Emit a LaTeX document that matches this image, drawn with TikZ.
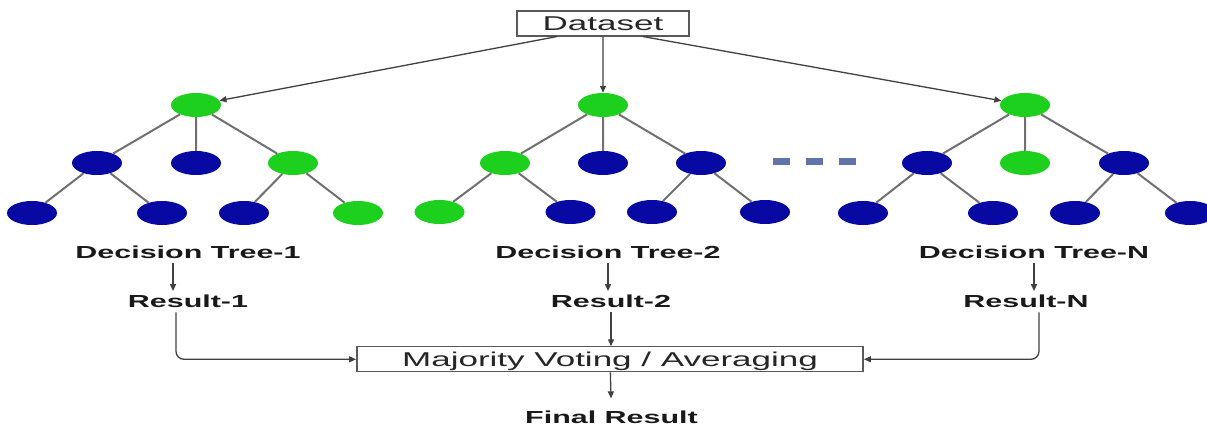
\documentclass[tikz,border=0pt]{standalone}
\usepackage{fontspec}
\setmainfont{Liberation Sans}
\usetikzlibrary{shapes.geometric,arrows.meta}
\definecolor{leafgreen}{RGB}{30,208,30}
\definecolor{leafblue}{RGB}{8,8,162}
\definecolor{dotblue}{RGB}{98,114,170}
\definecolor{branchgray}{RGB}{112,112,112}
\tikzset{
	gnode/.style={ellipse,fill=leafgreen,minimum width=50pt,minimum height=24pt,inner sep=0pt},
	bnode/.style={gnode,fill=leafblue},
	branch/.style={draw=branchgray,line width=2pt},
	flow/.style={draw=black!75,line width=1.3pt,-{Triangle[length=7pt,width=6pt]}},
	box/.style={draw=black!65,line width=1.1pt,xscale=1.75,inner sep=0pt,minimum height=25pt,
		text height=14.3pt,text depth=0pt,font=\fontsize{20}{24}\selectfont,text=black!85},
	lbl/.style={xscale=1.75,inner sep=4pt,font=\bfseries\fontsize{17.4}{20}\selectfont,text=black!90},
}
\begin{document}
\begin{tikzpicture}[x=1pt,y=-1pt]
		\useasboundingbox (0,0) rectangle (1207,425);
		\node[box,minimum width=98.3pt] (data) at (603,23.5) {Dataset};
		\path
		(196,105) node[gnode] (t1) {}
		(97,163) node[bnode] (t1l) {}
		(196,163) node[bnode] (t1m) {}
		(293,163) node[gnode] (t1r) {}
		(32,213) node[bnode] (t1ll) {}
		(162,213) node[bnode] (t1lr) {}
		(244,213) node[bnode] (t1rl) {}
		(358,213) node[gnode] (t1rr) {}
		;
		\path
		(603,105) node[gnode] (t2) {}
		(505,163) node[gnode] (t2l) {}
		(603,163) node[bnode] (t2m) {}
		(701,163) node[bnode] (t2r) {}
		(439.5,212) node[gnode] (t2ll) {}
		(570.5,212) node[bnode] (t2lr) {}
		(652,212) node[bnode] (t2rl) {}
		(765,212) node[bnode] (t2rr) {}
		;
		\path
		(1025,105) node[gnode] (tn) {}
		(927,163) node[bnode] (tnl) {}
		(1025,163) node[gnode] (tnm) {}
		(1124,163) node[bnode] (tnr) {}
		(863,213) node[bnode] (tnll) {}
		(993,213) node[bnode] (tnlr) {}
		(1075,213) node[bnode] (tnrl) {}
		(1190,213) node[bnode] (tnrr) {}
		;
		\foreach \t in {t1,t2,tn}
			\draw[branch] (\t) -- (\t l) (\t) -- (\t m) (\t) -- (\t r)
				(\t l) -- (\t ll) (\t l) -- (\t lr) (\t r) -- (\t rl) (\t r) -- (\t rr);
		\foreach \x in {781,814,847}
			\fill[dotblue] (\x-8.5,158) rectangle (\x+8.5,165);
		\draw[flow] ([xshift=-46pt]data.south) -- (t1);
		\draw[flow] (data) -- (t2);
		\draw[flow] ([xshift=40pt]data.south) -- (tn);
		\node[lbl] (dt1) at (188,252.5) {Decision Tree-1};
		\node[lbl] (dt2) at (608,252.5) {Decision Tree-2};
		\node[lbl] (dtn) at (1034,252.5) {Decision Tree-N};
		\node[lbl] (res1) at (188,301.7) {Result-1};
		\node[lbl] (res2) at (611,301.7) {Result-2};
		\node[lbl] (resn) at (1026,301.7) {Result-N};
		\node[box,minimum width=289.1pt] (vote) at (610,359.3) {Majority Voting / Averaging};
		\node[lbl] (final) at (611.5,417) {Final Result};
		\draw[flow] ([xshift=-15pt]dt1.south) -- ([xshift=-15pt]dt1.south |- res1.north);
		\draw[flow] (dt2.south) -- (dt2.south |- res2.north);
		\draw[flow] (dtn.south) -- (dtn.south |- resn.north);
		\draw[flow,rounded corners=8pt] ([xshift=-12pt]res1.south) |- (vote.west);
		\draw[flow] (res2.south) -- (res2.south |- vote.north);
		\draw[flow,rounded corners=8pt] ([xshift=13pt]resn.south) |- (vote.east);
		\draw[flow,shorten >=8pt] (vote) -- (final);
	\end{tikzpicture}
\end{document}
